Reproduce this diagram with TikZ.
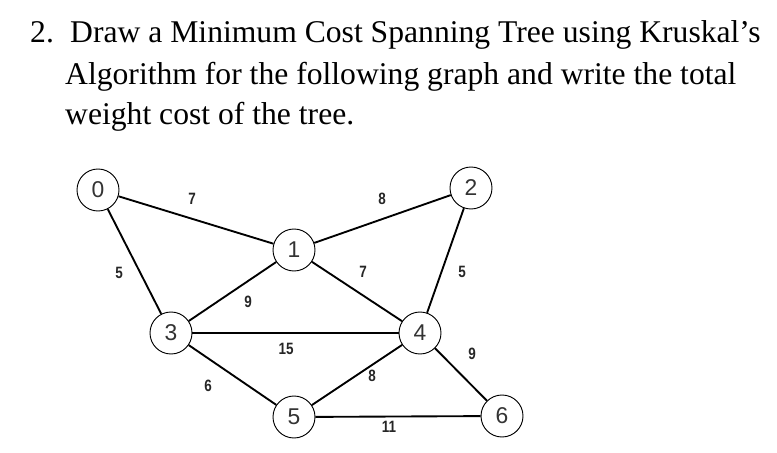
\documentclass[tikz,border=0pt]{standalone}
\usepackage{fontspec}
\setmainfont{Liberation Serif}
\newfontfamily\vertexfont{Liberation Sans}
\newfontfamily\weightfont[FakeStretch=0.82]{Liberation Sans}
\usetikzlibrary{positioning}

\begin{document}
\begin{tikzpicture}[
  x=0.03cm, y=-0.03cm,
  vertex/.style={
    circle, draw=black, line width=0.8pt,
    minimum size=1.26cm, inner sep=0pt,
    font=\vertexfont\fontsize{19.5}{19.5}\selectfont,
    text=black!80
  },
  link/.style={line width=1.6pt, draw=black},
  weight/.style={font=\weightfont\bfseries\fontsize{14}{14}\selectfont, text=black!85, inner sep=0pt},
  question/.style={anchor=base west, inner sep=0pt, font=\fontsize{27}{30}\selectfont}
]
\useasboundingbox (0,0) rectangle (777,453);

% question text
\node[question] (qnum)   at (30,43)   {2.};
\node[question] (qline1) at (70,43)   {Draw a Minimum Cost Spanning Tree using Kruskal’s};
\node[question] (qline2) at (65,85)   {Algorithm for the following graph and write the total};
\node[question] (qline3) at (65,125)  {weight cost of the tree.};

% vertices
\node[vertex] (v0) at (98,190)  {0};
\node[vertex] (v1) at (294,250) {1};
\node[vertex] (v2) at (471,188) {2};
\node[vertex] (v3) at (171,333) {3};
\node[vertex] (v4) at (420,333) {4};
\node[vertex] (v5) at (294,417) {5};
\node[vertex] (v6) at (502,416) {6};

% edges
\draw[link] (v0) -- (v1);
\draw[link] (v0) -- (v3);
\draw[link] (v1) -- (v2);
\draw[link] (v1) -- (v4);
\draw[link] (v2) -- (v4);
\draw[link] (v3) -- (v1);
\draw[link] (v3) -- (v4);
\draw[link] (v3) -- (v5);
\draw[link] (v5) -- (v4);
\draw[link] (v4) -- (v6);
\draw[link] (v5) -- (v6);

% weights
\node[weight] (w01) at (192,199) {7};
\node[weight] (w03) at (119,273) {5};
\node[weight] (w12) at (382,199) {8};
\node[weight] (w14) at (363,272) {7};
\node[weight] (w24) at (462,272) {5};
\node[weight] (w13) at (248,302) {9};
\node[weight] (w34) at (286,349) {15};
\node[weight] (w35) at (208,386) {6};
\node[weight] (w45) at (372,376) {8};
\node[weight] (w46) at (472,354) {9};
\node[weight] (w56) at (389,427) {11};
\end{tikzpicture}
\end{document}
